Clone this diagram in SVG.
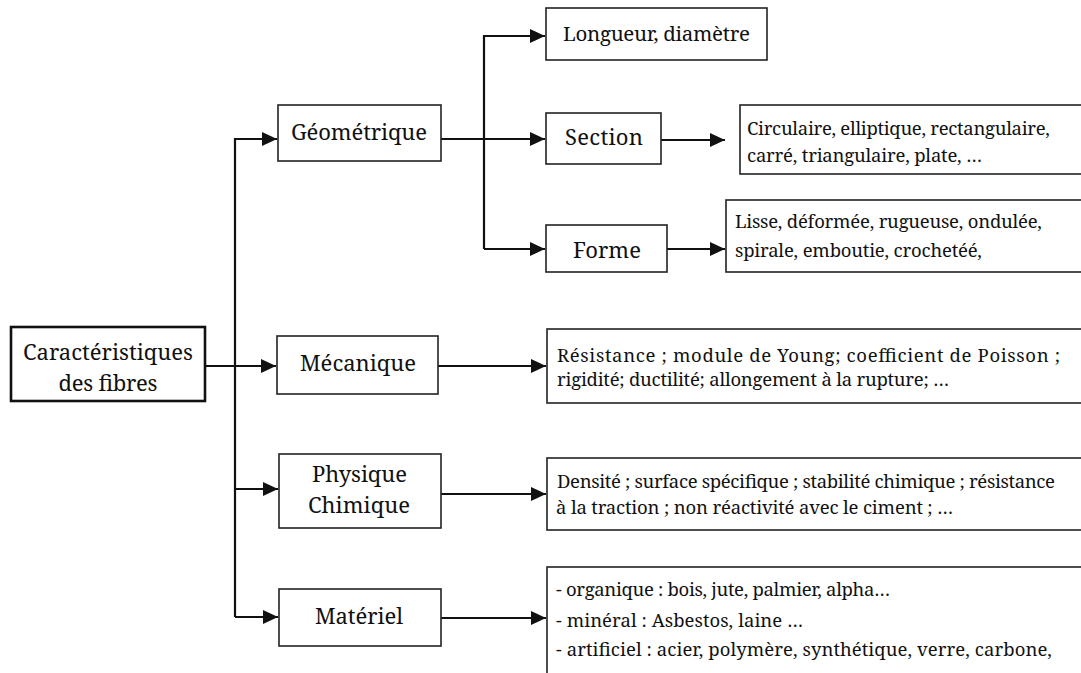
<svg xmlns="http://www.w3.org/2000/svg" width="1081" height="673" viewBox="0 0 1081 673">
<style>
.box{fill:#fff;stroke:#222;stroke-width:1.6}
.root{fill:#fff;stroke:#111;stroke-width:2.6}
.t{font-family:"Noto Serif","DejaVu Serif",serif;fill:#111}
.n{font-size:22px;text-anchor:middle}
.d{font-size:18.5px}
.c{fill:none;stroke:#111;stroke-width:2.2}
</style>
<defs>
<marker id="ah" markerUnits="userSpaceOnUse" markerWidth="16" markerHeight="14" refX="15" refY="7" orient="auto">
<path d="M0,0 L15,7 L0,14 Z" fill="#111"/>
</marker>
</defs>
<rect width="1081" height="673" fill="#fff"/>
<g id="connectors">
<path class="c" d="M205,366 H276" marker-end="url(#ah)"/>
<path class="c" d="M235,617 V139 H277" marker-end="url(#ah)"/>
<path class="c" d="M235,489 H278" marker-end="url(#ah)"/>
<path class="c" d="M235,617 H278" marker-end="url(#ah)"/>
<path class="c" d="M441,139 H545" marker-end="url(#ah)"/>
<path class="c" d="M484,249 V36 H545" marker-end="url(#ah)"/>
<path class="c" d="M484,249 H545" marker-end="url(#ah)"/>
<path class="c" d="M661,140 H725" marker-end="url(#ah)"/>
<path class="c" d="M667,249 H725" marker-end="url(#ah)"/>
<path class="c" d="M438,366 H546" marker-end="url(#ah)"/>
<path class="c" d="M441,494 H546" marker-end="url(#ah)"/>
<path class="c" d="M441,618 H546" marker-end="url(#ah)"/>
</g>
<g id="root">
<rect class="root" x="11" y="327" width="194" height="74"/>
<text class="t n" x="108" y="360" textLength="170" lengthAdjust="spacing">Caractéristiques</text>
<text class="t n" x="108" y="391" textLength="99" lengthAdjust="spacing">des fibres</text>
</g>
<g id="geometrique">
<rect class="box" x="278" y="105" width="163" height="56"/>
<text class="t n" x="359" y="140" textLength="136" lengthAdjust="spacing">Géométrique</text>
</g>
<g id="mecanique">
<rect class="box" x="277" y="336" width="161" height="58"/>
<text class="t n" x="358" y="371" textLength="116" lengthAdjust="spacing">Mécanique</text>
</g>
<g id="physique">
<rect class="box" x="279" y="454" width="162" height="74"/>
<text class="t n" x="359.5" y="482" textLength="95" lengthAdjust="spacing">Physique</text>
<text class="t n" x="359" y="513" textLength="102" lengthAdjust="spacing">Chimique</text>
</g>
<g id="materiel">
<rect class="box" x="279" y="589" width="162" height="57"/>
<text class="t n" x="359" y="624" textLength="88" lengthAdjust="spacing">Matériel</text>
</g>
<g id="longueur">
<rect class="box" x="546" y="8" width="221" height="52"/>
<text class="t" x="563" y="41" font-size="20.5px" textLength="187" lengthAdjust="spacing">Longueur, diamètre</text>
</g>
<g id="section">
<rect class="box" x="546" y="113" width="115" height="51"/>
<text class="t n" x="604" y="145" textLength="78" lengthAdjust="spacing">Section</text>
</g>
<g id="forme">
<rect class="box" x="546" y="225" width="121" height="47"/>
<text class="t n" x="607" y="258" textLength="68" lengthAdjust="spacing">Forme</text>
</g>
<g id="section-detail">
<rect class="box" x="740" y="105" width="360" height="69"/>
<text class="t d" x="747" y="135" textLength="303" lengthAdjust="spacing">Circulaire, elliptique, rectangulaire,</text>
<text class="t d" x="747" y="162" textLength="235" lengthAdjust="spacing">carré, triangulaire, plate, …</text>
</g>
<g id="forme-detail">
<rect class="box" x="726" y="200" width="370" height="72"/>
<text class="t d" x="735" y="228" textLength="307" lengthAdjust="spacing">Lisse, déformée, rugueuse, ondulée,</text>
<text class="t d" x="735" y="257" textLength="247" lengthAdjust="spacing">spirale, emboutie, crochetéé,</text>
</g>
<g id="mecanique-detail">
<rect class="box" x="547" y="329" width="550" height="74"/>
<text class="t d" x="557" y="362" textLength="503" lengthAdjust="spacing">Résistance ; module de Young; coefficient de Poisson ;</text>
<text class="t d" x="557" y="386" textLength="392" lengthAdjust="spacing">rigidité; ductilité; allongement à la rupture; …</text>
</g>
<g id="physique-detail">
<rect class="box" x="547" y="458" width="550" height="72"/>
<text class="t d" x="557" y="488" textLength="498" lengthAdjust="spacing">Densité ; surface spécifique ; stabilité chimique ; résistance</text>
<text class="t d" x="556" y="514" textLength="397" lengthAdjust="spacing">à la traction ; non réactivité avec le ciment ; …</text>
</g>
<g id="materiel-detail">
<rect class="box" x="547" y="567" width="550" height="120"/>
<text class="t d" x="556" y="596" textLength="334" lengthAdjust="spacing">- organique : bois, jute, palmier, alpha…</text>
<text class="t d" x="556" y="627" textLength="247" lengthAdjust="spacing">- minéral : Asbestos, laine …</text>
<text class="t d" x="556" y="656" textLength="496" lengthAdjust="spacing">- artificiel : acier, polymère, synthétique, verre, carbone,</text>
</g>
</svg>
